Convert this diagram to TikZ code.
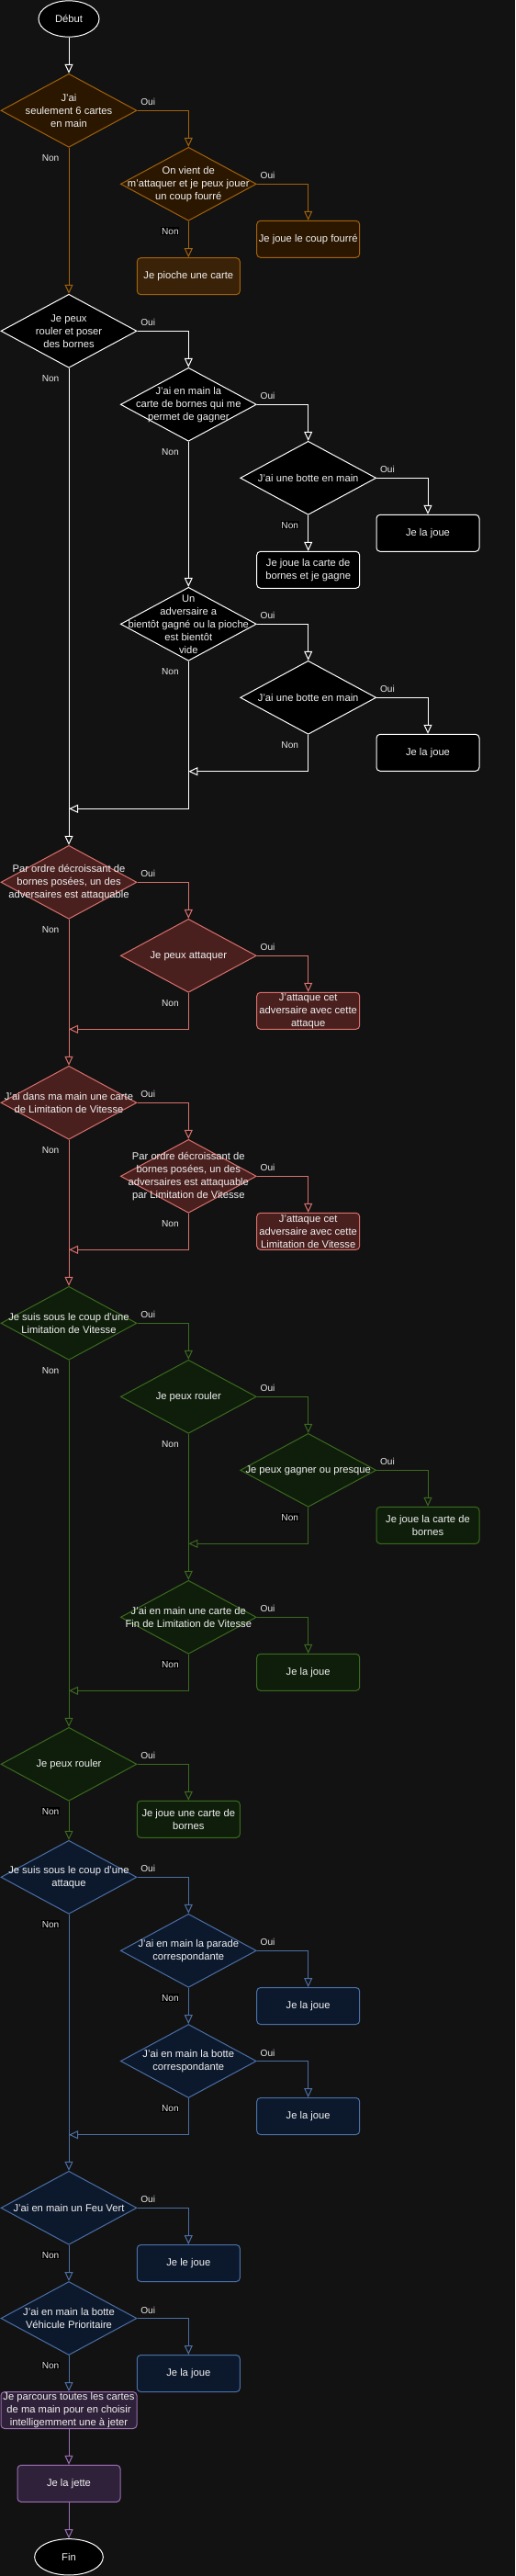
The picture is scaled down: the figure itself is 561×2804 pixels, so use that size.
\documentclass[tikz,border=0pt]{standalone}
\usepackage{fontspec}
\setmainfont{Liberation Sans}
\usetikzlibrary{shapes.geometric,arrows.meta}
\definecolor{bgcol}{HTML}{121212}
\definecolor{txt}{HTML}{F0F0F0}
\definecolor{lbl}{HTML}{E6E6E6}
\definecolor{orline}{HTML}{A2620B}
\definecolor{orfill}{HTML}{2B1700}
\definecolor{orfillb}{HTML}{3A2208}
\definecolor{redline}{HTML}{D9706C}
\definecolor{redfill}{HTML}{4A201F}
\definecolor{grline}{HTML}{3A6B1E}
\definecolor{grfill}{HTML}{0F1E0B}
\definecolor{blline}{HTML}{4B6FA6}
\definecolor{blfill}{HTML}{0C192D}
\definecolor{puline}{HTML}{9A6EB2}
\definecolor{pufill}{HTML}{2F2139}
\tikzset{
  decision/.style 2 args={diamond, draw=#1, fill=#2, line width=0.75pt,
    minimum width=111pt, minimum height=60pt, inner sep=0pt},
  dtext/.style={align=center, inner sep=0pt, text=txt, font=\fontsize{8.4}{10.5}\selectfont},
  action/.style 2 args={rectangle, rounded corners=3pt, draw=#1, fill=#2, line width=0.75pt,
    minimum width=84pt, minimum height=30pt, inner sep=0pt, align=center,
    text=txt, font=\fontsize{8.4}{10.5}\selectfont},
  terminal/.style={ellipse, draw=white, fill=black, line width=0.75pt, minimum height=29.5pt,
    inner sep=0pt, text=txt, font=\fontsize{8.4}{10.5}\selectfont},
  flow/.style={draw=#1, line width=0.75pt, -{Triangle[open,length=7.5pt,width=6.75pt]}},
  oui/.style={pos=0, anchor=base west, xshift=2.5pt, yshift=4pt, inner sep=0pt,
    text=lbl, font=\fontsize{7.6}{9}\selectfont},
  non/.style={pos=0, anchor=north east, xshift=-7pt, yshift=-4.5pt, inner sep=0.6pt,
    text=lbl, font=\fontsize{7.6}{9}\selectfont},
  nonbg/.style={non, fill=black},
}
\begin{document}
\begin{tikzpicture}[x=0.75pt,y=-0.75pt]
\fill[bgcol] (0,0) rectangle (561,2804);
% debut et coup fourre
\node[terminal, minimum width=49.5pt] (debut) at (75,20.5) {Début};
\node[decision={orline}{orfill}, label={[dtext]center:{J'ai\\seulement 6 cartes\\en main}}] (d1) at (75,120.3) {};
\node[decision={orline}{orfill}, label={[dtext]center:{On vient de\\m'attaquer et je peux jouer\\un coup fourré}}] (d2) at (205.3,200.3) {};
\node[action={orline}{orfill}] (r1) at (335.7,260.3) {Je joue le coup fourré};
\node[action={orline}{orfillb}] (r2) at (205.3,300.7) {Je pioche une carte};
% bornes
\node[decision={white}{black}, label={[dtext]center:{Je peux\\rouler et poser\\des bornes}}] (d3) at (75,360.3) {};
\node[decision={white}{black}, label={[dtext]center:{J'ai en main la\\carte de bornes qui me\\permet de gagner}}] (d4) at (205.3,440.3) {};
\node[decision={white}{black}, label={[dtext]center:{J'ai une botte en main}}] (d5) at (335.7,520.3) {};
\node[action={white}{black}] (r3) at (466,580.3) {Je la joue};
\node[action={white}{black}] (r4) at (335.7,620.3) {Je joue la carte de\\bornes et je gagne};
\node[decision={white}{black}, label={[dtext]center:{Un\\adversaire a\\bientôt gagné ou la pioche\\est bientôt\\vide}}] (d6) at (205.3,679.3) {};
\node[decision={white}{black}, label={[dtext]center:{J'ai une botte en main}}] (d7) at (335.7,759.3) {};
\node[action={white}{black}] (r5) at (466,819.3) {Je la joue};
\coordinate (j1) at (205.3,839.7);
\coordinate (j2) at (75,880.3);
% attaques
\node[decision={redline}{redfill}, label={[dtext]center:{Par ordre décroissant de\\bornes posées, un des\\adversaires est attaquable}}] (d8) at (75,960.3) {};
\node[decision={redline}{redfill}, label={[dtext]center:{Je peux attaquer}}] (d9) at (205.3,1040.3) {};
\node[action={redline}{redfill}] (r6) at (335.7,1100.3) {J'attaque cet\\adversaire avec cette\\attaque};
\coordinate (j3) at (75,1120.3);
\node[decision={redline}{redfill}, label={[dtext]center:{J'ai dans ma main une carte\\de Limitation de Vitesse}}] (d10) at (75,1200.3) {};
\node[decision={redline}{redfill}, label={[dtext]center:{Par ordre décroissant de\\bornes posées, un des\\adversaires est attaquable\\par Limitation de Vitesse}}] (d11) at (205.3,1280.3) {};
\node[action={redline}{redfill}] (r7) at (335.7,1340.3) {J'attaque cet\\adversaire avec cette\\Limitation de Vitesse};
\coordinate (j4) at (75,1360.3);
% limitation de vitesse
\node[decision={grline}{grfill}, label={[dtext]center:{Je suis sous le coup d'une\\Limitation de Vitesse}}] (d12) at (75,1440.3) {};
\node[decision={grline}{grfill}, label={[dtext]center:{Je peux rouler}}] (d13) at (205.3,1520.3) {};
\node[decision={grline}{grfill}, label={[dtext]center:{Je peux gagner ou presque}}] (d14) at (335.7,1600.3) {};
\node[action={grline}{grfill}] (r8) at (466,1660.3) {Je joue la carte de\\bornes};
\coordinate (j5) at (205.3,1680.3);
\node[decision={grline}{grfill}, label={[dtext]center:{J'ai en main une carte de\\Fin de Limitation de Vitesse}}] (d15) at (205.3,1760.3) {};
\node[action={grline}{grfill}] (r9) at (335.7,1820.3) {Je la joue};
\coordinate (j6) at (75,1840.3);
\node[decision={grline}{grfill}, label={[dtext]center:{Je peux rouler}}] (d16) at (75,1920.3) {};
\node[action={grline}{grfill}] (r10) at (205.3,1980.3) {Je joue une carte de\\bornes};
% parades
\node[decision={blline}{blfill}, label={[dtext]center:{Je suis sous le coup d'une\\attaque}}] (d17) at (75,2043.3) {};
\node[decision={blline}{blfill}, label={[dtext]center:{J'ai en main la parade\\correspondante}}] (d18) at (205.3,2123.3) {};
\node[action={blline}{blfill}] (r11) at (335.7,2183.5) {Je la joue};
\node[decision={blline}{blfill}, label={[dtext]center:{J'ai en main la botte\\correspondante}}] (d19) at (205.3,2243.5) {};
\node[action={blline}{blfill}] (r12) at (335.7,2303.5) {Je la joue};
\coordinate (j7) at (75,2323.7);
\node[decision={blline}{blfill}, label={[dtext]center:{J'ai en main un Feu Vert}}] (d20) at (75,2403.3) {};
\node[action={blline}{blfill}] (r13) at (205.3,2463.5) {Je le joue};
\node[decision={blline}{blfill}, label={[dtext]center:{J'ai en main la botte\\Véhicule Prioritaire}}] (d21) at (75,2523.5) {};
\node[action={blline}{blfill}] (r14) at (205.3,2583.5) {Je la joue};
% defausse
\node[action={puline}{pufill}, minimum width=111pt] (r15) at (75,2623.5) {Je parcours toutes les cartes\\de ma main pour en choisir\\intelligemment une à jeter};
\node[action={puline}{pufill}] (r16) at (75,2703.3) {Je la jette};
\node[terminal, minimum width=56pt] (fin) at (75,2783.3) {Fin};

\draw[flow=white] (debut) -- (d1);
\draw[flow=orline] (d1.east) -| node[oui]{Oui} (d2.north);
\draw[flow=orline] (d2.east) -| node[oui]{Oui} (r1.north);
\draw[flow=orline] (d2.south) -- node[nonbg]{Non} (r2.north);
\draw[flow=orline] (d1.south) -- node[non]{Non} (d3.north);
\draw[flow=white] (d3.east) -| node[oui]{Oui} (d4.north);
\draw[flow=white] (d4.east) -| node[oui]{Oui} (d5.north);
\draw[flow=white] (d5.east) -| node[oui]{Oui} (r3.north);
\draw[flow=white] (d5.south) -- node[nonbg]{Non} (r4.north);
\draw[flow=white] (d4.south) -- node[non]{Non} (d6.north);
\draw[flow=white] (d6.east) -| node[oui]{Oui} (d7.north);
\draw[flow=white] (d7.east) -| node[oui]{Oui} (r5.north);
\draw[flow=white] (d7.south) |- node[non]{Non} (j1);
\draw[flow=white] (d6.south) |- node[non]{Non} (j2);
\draw[flow=white] (d3.south) -- node[non]{Non} (d8.north);
\draw[flow=redline] (d8.east) -| node[oui]{Oui} (d9.north);
\draw[flow=redline] (d9.east) -| node[oui]{Oui} (r6.north);
\draw[flow=redline] (d9.south) |- node[non]{Non} (j3);
\draw[flow=redline] (d8.south) -- node[non]{Non} (d10.north);
\draw[flow=redline] (d10.east) -| node[oui]{Oui} (d11.north);
\draw[flow=redline] (d11.east) -| node[oui]{Oui} (r7.north);
\draw[flow=redline] (d11.south) |- node[non]{Non} (j4);
\draw[flow=redline] (d10.south) -- node[non]{Non} (d12.north);
\draw[flow=grline] (d12.east) -| node[oui]{Oui} (d13.north);
\draw[flow=grline] (d13.east) -| node[oui]{Oui} (d14.north);
\draw[flow=grline] (d14.east) -| node[oui]{Oui} (r8.north);
\draw[flow=grline] (d14.south) |- node[nonbg]{Non} (j5);
\draw[flow=grline] (d13.south) -- node[non]{Non} (d15.north);
\draw[flow=grline] (d15.east) -| node[oui]{Oui} (r9.north);
\draw[flow=grline] (d15.south) |- node[nonbg]{Non} (j6);
\draw[flow=grline] (d12.south) -- node[non]{Non} (d16.north);
\draw[flow=grline] (d16.east) -| node[oui]{Oui} (r10.north);
\draw[flow=grline] (d16.south) -- node[nonbg]{Non} (d17.north);
\draw[flow=blline] (d17.east) -| node[oui]{Oui} (d18.north);
\draw[flow=blline] (d18.east) -| node[oui]{Oui} (r11.north);
\draw[flow=blline] (d18.south) -- node[nonbg]{Non} (d19.north);
\draw[flow=blline] (d19.east) -| node[oui]{Oui} (r12.north);
\draw[flow=blline] (d19.south) |- node[nonbg]{Non} (j7);
\draw[flow=blline] (d17.south) -- node[nonbg]{Non} (d20.north);
\draw[flow=blline] (d20.east) -| node[oui]{Oui} (r13.north);
\draw[flow=blline] (d20.south) -- node[nonbg]{Non} (d21.north);
\draw[flow=blline] (d21.east) -| node[oui]{Oui} (r14.north);
\draw[flow=blline] (d21.south) -- node[nonbg]{Non} (r15.north);
\draw[flow=puline] (r15) -- (r16);
\draw[flow=puline] (r16) -- (fin);
\end{tikzpicture}
\end{document}
